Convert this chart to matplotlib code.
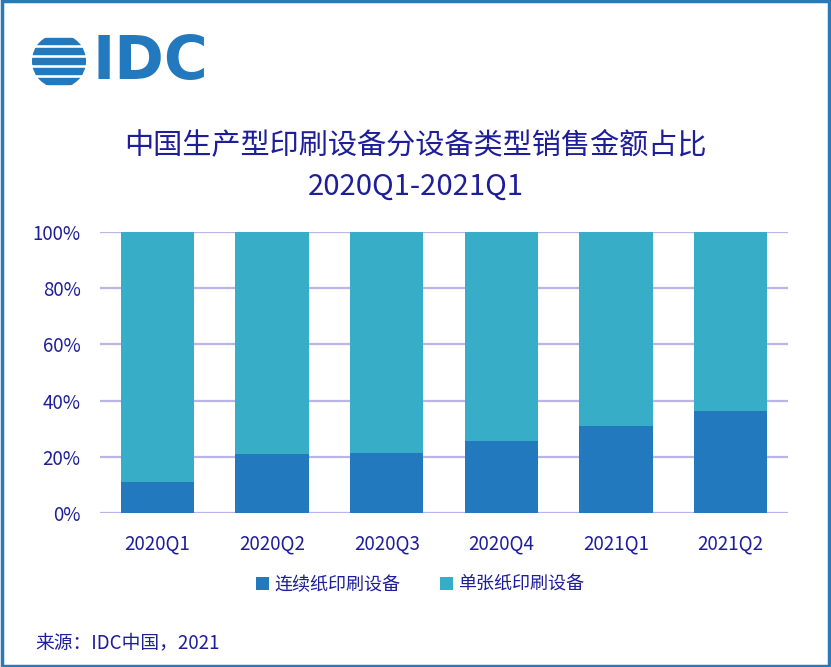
import numpy as np
import matplotlib.pyplot as plt
from matplotlib.patches import Rectangle, Circle

plt.rcParams['font.family'] = ['Noto Sans CJK SC', 'DejaVu Sans']

# datos
quarters = ['2020Q1', '2020Q2', '2020Q3', '2020Q4', '2021Q1', '2021Q2']
continuous = [11.0, 21.0, 21.4, 25.6, 31.0, 36.3]
sheet = [100 - v for v in continuous]
series_names = ['连续纸印刷设备', '单张纸印刷设备']
title_lines = ['中国生产型印刷设备分设备类型销售金额占比', '2020Q1-2021Q1']
source_text = '来源：IDC中国，2021'

W, H = 831, 667
navy = '#1e1e9a'
dark = '#2379bd'
light = '#37adc8'
grid_c = '#b9b5e6'


def fx(px):
    return px / W


def fy(py):
    return 1 - py / H


fig = plt.figure(figsize=(W / 100, H / 100), dpi=100)

# marco azul
fig.patches.append(Rectangle((0.002, 0.002), 0.996, 0.996, transform=fig.transFigure,
                             fill=False, edgecolor='#2a7ab8', linewidth=2.5))

# logo IDC
lax = fig.add_axes([fx(32), fy(88), fx(54), 54 / H])
lax.set_xlim(-1, 1)
lax.set_ylim(-1, 1)
lax.set_aspect('equal')
lax.axis('off')
clip = Circle((0, 0), 1, transform=lax.transData)
for yc in [0.74, 0.37, 0.0, -0.37, -0.74]:
    band = Rectangle((-1, yc - 0.12), 2, 0.24, color=dark)
    lax.add_patch(band)
    band.set_clip_path(clip)
fig.text(fx(92), fy(62), 'IDC', color=dark, fontsize=43, fontweight='bold',
         family='DejaVu Sans', va='center', ha='left')

# título
fig.text(0.5, fy(145), title_lines[0], color=navy, fontsize=21, ha='center', va='center')
fig.text(0.5, fy(187), title_lines[1], color=navy, fontsize=21, ha='center', va='center')

ax = fig.add_axes([fx(100), fy(513), fx(688), 281 / H])
x = np.arange(len(quarters))
ax.bar(x, continuous, width=0.64, color=dark, label=series_names[0], zorder=3)
ax.bar(x, sheet, bottom=continuous, width=0.64, color=light, label=series_names[1], zorder=3)
ax.set_xlim(-0.5, len(quarters) - 0.5)
ax.set_ylim(0, 100)
ax.set_yticks(np.arange(0, 101, 20))
ax.set_yticklabels([f'{v}%' for v in range(0, 101, 20)])
ax.set_xticks(x)
ax.set_xticklabels(quarters)
ax.yaxis.grid(True, color=grid_c, linewidth=1.6, zorder=0)
ax.tick_params(length=0, labelsize=13.5, colors=navy)
ax.tick_params(axis='y', pad=14)
ax.tick_params(axis='x', pad=15)
for s in ax.spines.values():
    s.set_visible(False)

ax.legend(loc='center', bbox_to_anchor=((420 - 100) / 688, (fy(585) - fy(513)) / (281 / H)),
          ncol=2, frameon=False, fontsize=13, labelcolor=navy,
          handlelength=0.7, handleheight=0.7, handletextpad=0.3, columnspacing=2.2)

fig.text(fx(35), fy(643), source_text, color=navy, fontsize=13.5, ha='left', va='center')

fig.savefig('out.png', dpi=100)
